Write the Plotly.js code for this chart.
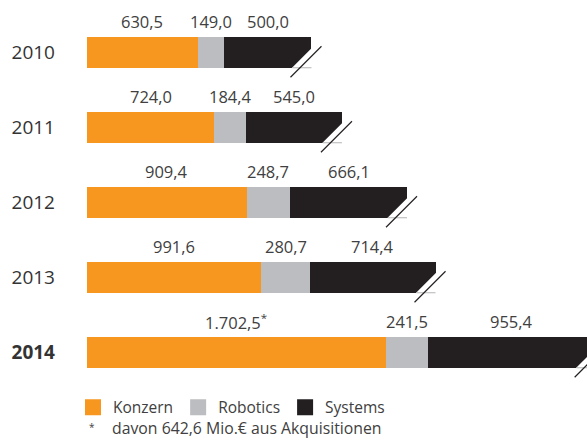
<!DOCTYPE html>
<html><head><meta charset="utf-8">
<script src="https://cdn.plot.ly/plotly-3.0.1.min.js"></script>
<style>html,body{margin:0;padding:0;background:#fff}</style>
</head><body><div id="chart" style="width:587px;height:440px"></div>
<script>
const years = ['2010','2011','2012','2013','2014'];
const konzern = [630.5, 724.0, 909.4, 991.6, 1702.5];
const robotics = [149.0, 184.4, 248.7, 280.7, 241.5];
const systems = [500.0, 545.0, 666.1, 714.4, 955.4];
const seriesNames = ['Konzern', 'Robotics', 'Systems'];
const footnoteText = 'davon 642,6 Mio.€ aus Akquisitionen';
const starredYear = '2014';

const colors = ['#F7971F', '#BCBDC0', '#231F20'];
const FONT = '"Open Sans", "Noto Sans", sans-serif';
const TXT = '#404040';

function de(v){
  const parts = v.toFixed(1).split('.');
  parts[0] = parts[0].replace(/\B(?=(\d{3})+(?!\d))/g, '.');
  return parts[0] + ',' + parts[1];
}

const idx = years.map((_, i) => i);
const series = [konzern, robotics, systems];
const traces = series.map((vals, s) => ({
  type: 'bar', orientation: 'h', name: seriesNames[s],
  y: idx, x: vals, width: 0.42, showlegend: false,
  marker: {color: colors[s], line: {width: 0}},
  hoverinfo: 'skip'
}));
// legend entries with 16px square keys
seriesNames.forEach((n, s) => traces.push({
  type: 'scatter', mode: 'markers', name: n, x: [null], y: [null],
  marker: {symbol: 'square', size: 16, color: colors[s], line: {width: 0}},
  hoverinfo: 'skip'
}));

const annotations = [];
const shapes = [];
const half = 0.21 * 75;
years.forEach((yr, i) => {
  let base = 0;
  series.forEach((vals, s) => {
    const v = vals[i];
    let txt = de(v);
    if (s === 0 && yr === starredYear) txt += '<sup>*</sup>';
    annotations.push({x: base + v/2, y: i, xref: 'x', yref: 'y', text: txt,
      showarrow: false, yshift: 31, xanchor: 'center', yanchor: 'middle',
      font: {family: FONT, size: 16.5, color: TXT}});
    base += v;
  });
  const E = base;
  const B = -half;
  shapes.push({type: 'path', xref: 'x', yref: 'y', xsizemode: 'pixel', ysizemode: 'pixel',
    xanchor: E, yanchor: i, path: `M-20,${B}L1,${B+21}L1,${B-1}Z`,
    fillcolor: '#ffffff', line: {width: 0}});
  shapes.push({type: 'line', xref: 'x', yref: 'y', xsizemode: 'pixel', ysizemode: 'pixel',
    xanchor: E, yanchor: i, x0: -19, x1: 0, y0: B+0.5, y1: B+0.5,
    line: {color: '#b5b5b5', width: 1}});
  shapes.push({type: 'line', xref: 'x', yref: 'y', xsizemode: 'pixel', ysizemode: 'pixel',
    xanchor: E, yanchor: i, x0: -21, y0: B-9, x1: 10, y1: B+22,
    line: {color: '#231F20', width: 1.2}});
});

annotations.push({xref: 'paper', yref: 'paper', x: 0, y: 0, xshift: 0, yshift: -37,
  text: '*', showarrow: false, xanchor: 'left', yanchor: 'middle',
  font: {family: FONT, size: 10, color: TXT}});
annotations.push({xref: 'paper', yref: 'paper', x: 0, y: 0, xshift: 23, yshift: -50.5,
  text: footnoteText, showarrow: false, xanchor: 'left', yanchor: 'bottom',
  font: {family: FONT, size: 15.8, color: TXT}});

const layout = {
  width: 587, height: 440,
  margin: {l: 87, r: 0, t: 15, b: 50, pad: 0},
  paper_bgcolor: '#ffffff', plot_bgcolor: '#ffffff',
  barmode: 'stack', bargap: 0,
  showlegend: true,
  legend: {orientation: 'h', x: -0.028, xanchor: 'left', y: -0.047, yanchor: 'middle',
    font: {family: FONT, size: 15.5, color: TXT}, traceorder: 'normal',
    itemclick: false, itemdoubleclick: false, bgcolor: 'rgba(0,0,0,0)'},
  xaxis: {range: [0, 2850], visible: false, fixedrange: true},
  yaxis: {range: [4.5, -0.5], tickvals: idx,
    ticktext: years.map(y => y === starredYear ? '<b>' + y + '</b>' : y),
    showgrid: false, zeroline: false, showline: false, ticks: '',
    ticklabelstandoff: 31, tickfont: {family: FONT, size: 19, color: '#333333'},
    fixedrange: true},
  annotations: annotations,
  shapes: shapes,
  font: {family: FONT}
};

Plotly.newPlot('chart', traces, layout, {displayModeBar: false, staticPlot: true});
</script></body></html>
